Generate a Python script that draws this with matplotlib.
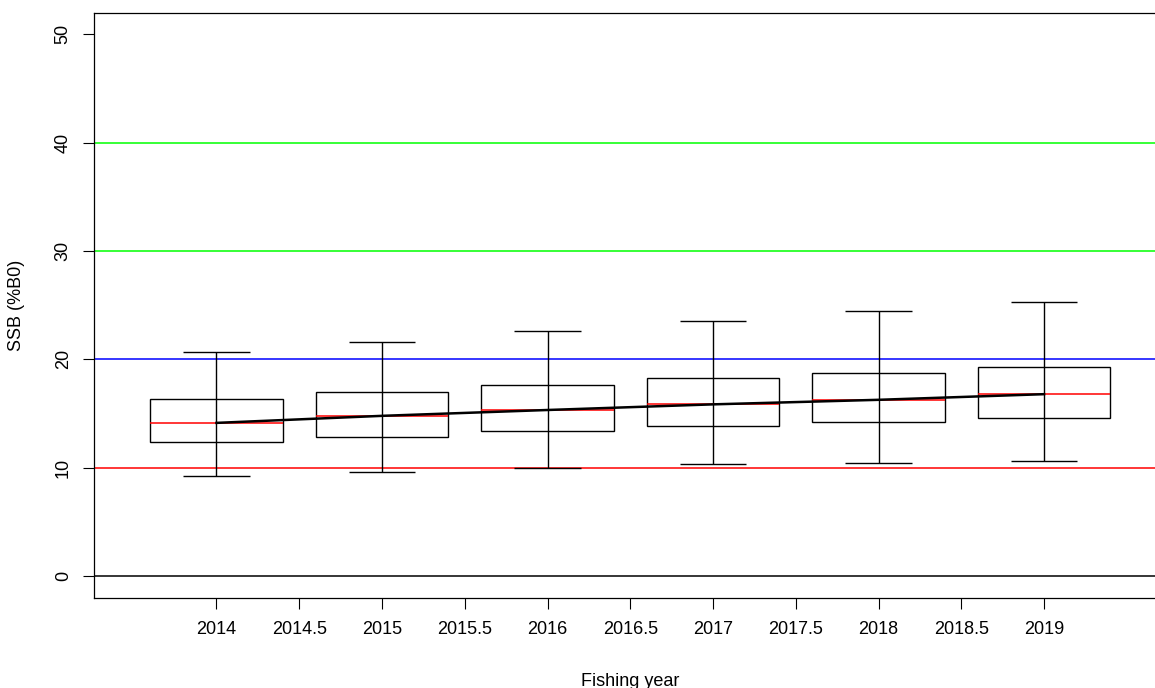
import matplotlib
matplotlib.use("Agg")
import matplotlib.pyplot as plt
import numpy as np

plt.rcParams['font.family'] = ['Liberation Sans', 'DejaVu Sans']

# fishing years and the box summaries (%B0)
years = [2014, 2015, 2016, 2017, 2018, 2019]
whisk_lo = [9.27, 9.58, 9.97, 10.34, 10.44, 10.66]
box_lo = [12.38, 12.82, 13.36, 13.82, 14.26, 14.57]
median = [14.14, 14.79, 15.33, 15.85, 16.27, 16.79]
box_hi = [16.30, 16.98, 17.61, 18.28, 18.79, 19.34]
whisk_hi = [20.67, 21.65, 22.62, 23.57, 24.47, 25.33]

# reference lines
ref_levels = [0, 10, 20, 30, 40]
ref_colors = ['black', 'red', 'blue', '#00ff00', '#00ff00']

xticks = np.arange(2014, 2019.01, 0.5)
xticklabels = ['2014', '2014.5', '2015', '2015.5', '2016', '2016.5',
               '2017', '2017.5', '2018', '2018.5', '2019']
yticks = [0, 10, 20, 30, 40, 50]

fig = plt.figure(figsize=(11.55, 6.88), dpi=100)
ax = fig.add_axes([0.0814, 0.1312, 0.9286, 0.8503])

for lev, col in zip(ref_levels, ref_colors):
    ax.axhline(lev, color=col, lw=1.1, zorder=1)

yrs = np.array(years, dtype=float)
ax.vlines(yrs, whisk_lo, whisk_hi, color='black', lw=1.0, zorder=2)
ax.hlines(whisk_lo, yrs - 0.2, yrs + 0.2, color='black', lw=1.0, zorder=2)
ax.hlines(whisk_hi, yrs - 0.2, yrs + 0.2, color='black', lw=1.0, zorder=2)
ax.bar(yrs, np.array(box_hi) - np.array(box_lo), bottom=box_lo, width=0.8,
       fill=False, edgecolor='black', lw=1.0, zorder=3)
ax.hlines(median, yrs - 0.4, yrs + 0.4, color='red', lw=1.1, zorder=3)
ax.plot(yrs, median, color='black', lw=1.8, zorder=4)

ax.set_xlim(2013.26, 2019.74)
ax.set_ylim(-2, 52)
ax.set_xticks(xticks)
ax.set_xticklabels(xticklabels)
ax.set_yticks(yticks)
ax.set_yticklabels([str(v) for v in yticks], rotation=90, va='center')
ax.tick_params(direction='out', length=8, width=0.8, labelsize=13)
ax.tick_params(axis='x', pad=8.5)
ax.tick_params(axis='y', pad=8)

for s in ax.spines.values():
    s.set_linewidth(0.9)

ax.set_xlabel('Fishing year', fontsize=13)
ax.set_ylabel('SSB (%B0)', fontsize=13)
ax.xaxis.set_label_coords(0.5, -0.128)
ax.yaxis.set_label_coords(-0.064, 0.5)

fig.savefig('out.png', dpi=100)
